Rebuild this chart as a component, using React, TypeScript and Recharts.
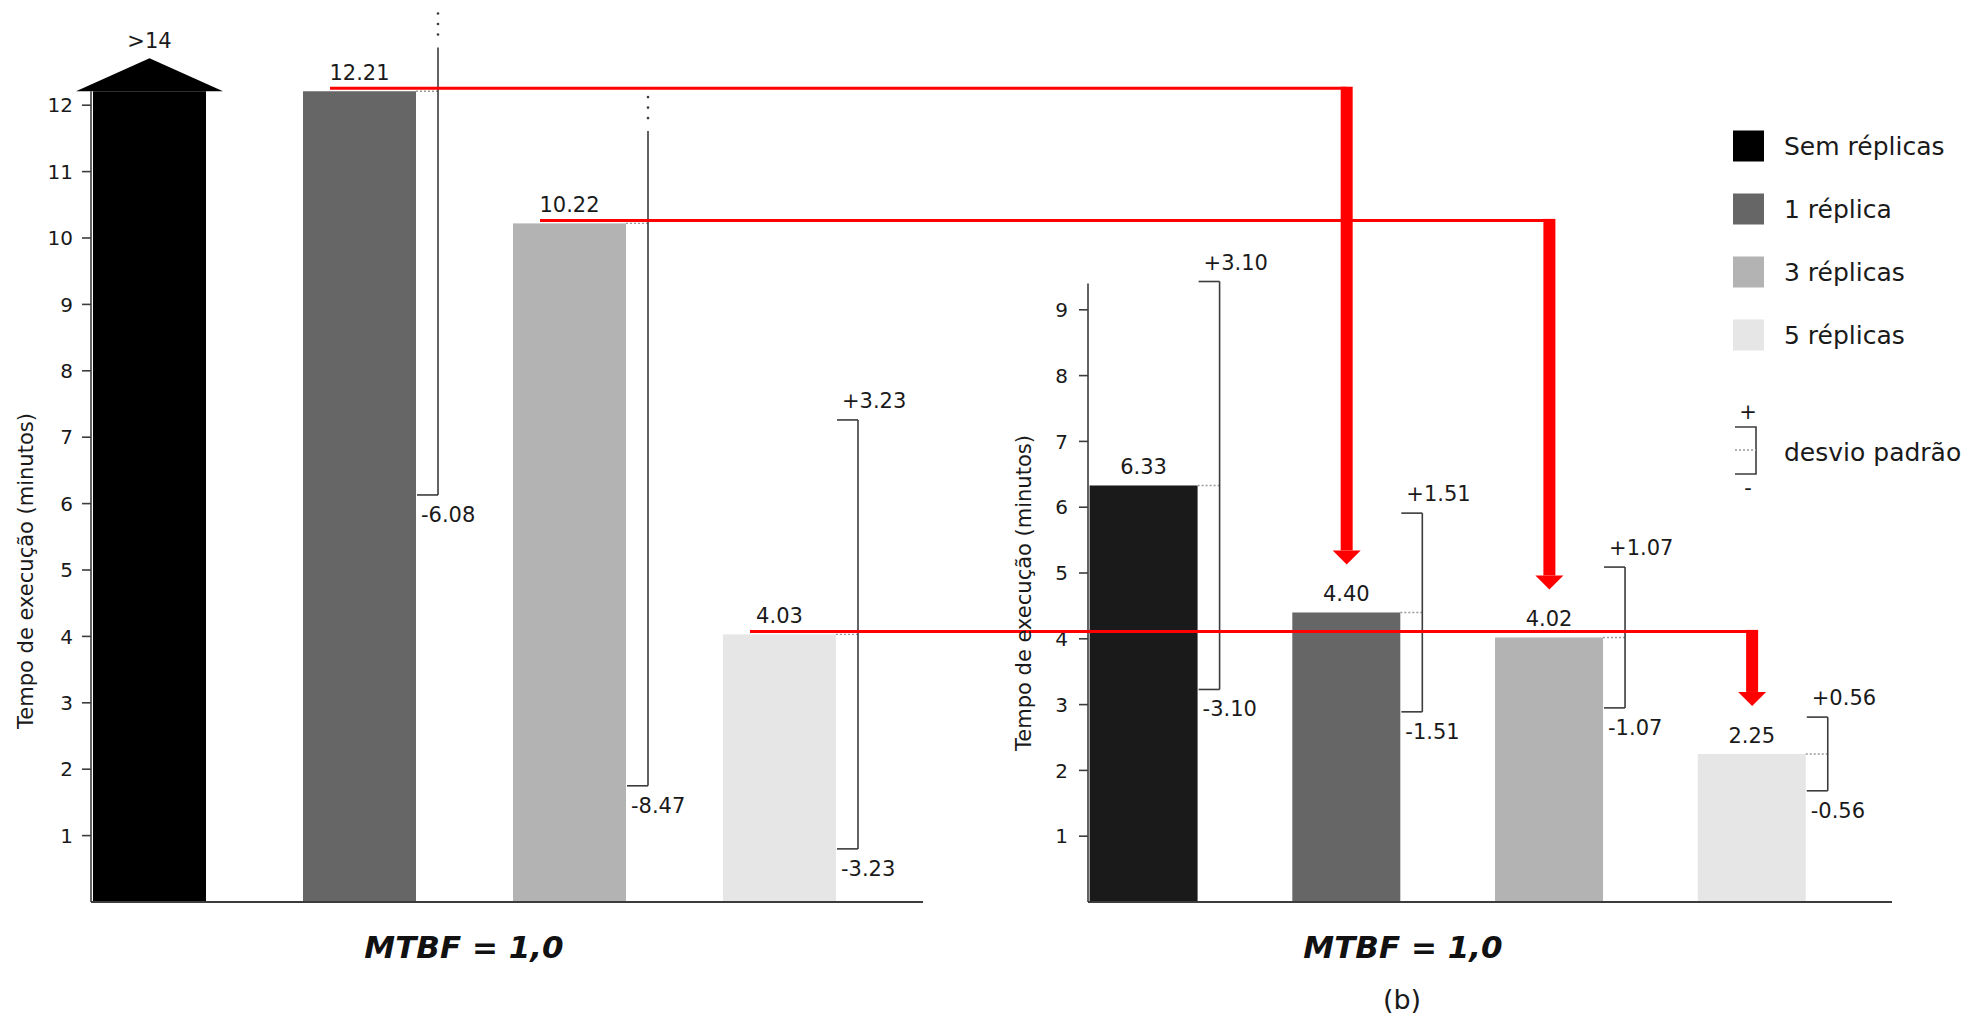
import React from 'react';
import { BarChart, Bar, XAxis, YAxis, ReferenceLine } from 'recharts';

// Tempo de execução (minutos), MTBF = 1,0
const SERIES = ['Sem réplicas', '1 réplica', '3 réplicas', '5 réplicas'];
const POSITIONS = [0, 1, 2, 3];

const LEFT_MEAN = [14, 12.21, 10.22, 4.03];
const LEFT_DEV = [null, 6.08, 8.47, 3.23];
// upper whisker is broken off at this value when it runs past the axis
const LEFT_BREAK = [null, 12.87, 11.61, null];
const LEFT_TICKS = [1, 2, 3, 4, 5, 6, 7, 8, 9, 10, 11, 12];

const RIGHT_MEAN = [6.33, 4.4, 4.02, 2.25];
const RIGHT_DEV = [3.1, 1.51, 1.07, 0.56];
const RIGHT_TICKS = [1, 2, 3, 4, 5, 6, 7, 8, 9];

const LEFT_FILLS = ['#000000', '#666666', '#b3b3b3', '#e6e6e6'];
const RIGHT_FILLS = ['#1a1a1a', '#666666', '#b3b3b3', '#e6e6e6'];

const W = 1978;
const H = 1019;
const BASE_Y = 902;
const TEXT = '#1a1a1a';
const LINE = '#3c3c3c';
const RED = '#ff0000';

const LEFT_MAX = 12.21;
const LEFT_PX = 66.4;
const RIGHT_MAX = 9.4;
const RIGHT_PX = 65.8;

const LEFT_BOX = { left: 91, right: 923, top: BASE_Y - LEFT_MAX * LEFT_PX, xMin: -0.281, xMax: 3.681, bar: 113 };
const RIGHT_BOX = { left: 1088, right: 1892, top: BASE_Y - RIGHT_MAX * RIGHT_PX, xMin: -0.276, xMax: 3.69, bar: 108 };

type Box = typeof LEFT_BOX;

const xOf = (box: Box, p: number) =>
  box.left + ((p - box.xMin) * (box.right - box.left)) / (box.xMax - box.xMin);
const yOf = (box: Box, max: number, v: number) =>
  BASE_Y - (v / max) * (BASE_Y - box.top);

const leftData = POSITIONS.map((p, i) => ({
  pos: p,
  value: Math.min(LEFT_MEAN[i], LEFT_MAX),
  mean: LEFT_MEAN[i],
  dev: LEFT_DEV[i],
  cut: LEFT_BREAK[i],
  fill: LEFT_FILLS[i],
}));

const rightData = POSITIONS.map((p, i) => ({
  pos: p,
  value: RIGHT_MEAN[i],
  mean: RIGHT_MEAN[i],
  dev: RIGHT_DEV[i],
  cut: null,
  fill: RIGHT_FILLS[i],
}));

const fmt = (v: number) => v.toFixed(2);

function DevBar(props: any) {
  const { x, y, width, height, payload } = props;
  const cx = x + width / 2;
  const right = x + width;
  const bx = right + 22;
  const ppu = height / payload.value;
  const clipped = payload.mean > payload.value;

  if (clipped) {
    // off-scale bar: rectangle topped with an arrow head
    return (
      <g>
        <rect x={x} y={y} width={width} height={height} fill={payload.fill} />
        <polygon points={`${x - 17},${y} ${cx},${y - 33} ${right + 17},${y}`} fill={payload.fill} />
        <text x={cx} y={y - 43} textAnchor="middle" fontSize={21} fill={TEXT}>
          {`>${payload.mean}`}
        </text>
      </g>
    );
  }

  const top = y - payload.dev * ppu;
  const bottom = y + payload.dev * ppu;
  const broken = payload.cut != null && payload.mean + payload.dev > payload.cut;
  const solidTop = broken ? y - (payload.cut - payload.value) * ppu : top;

  return (
    <g>
      <rect x={x} y={y} width={width} height={height} fill={payload.fill} />
      <text x={cx} y={y - 11} textAnchor="middle" fontSize={21} fill={TEXT}>
        {fmt(payload.mean)}
      </text>
      <line x1={right} x2={bx} y1={y} y2={y} stroke="#999" strokeWidth={1.4} strokeDasharray="2 2" />
      <line x1={bx} x2={bx} y1={solidTop} y2={bottom} stroke={LINE} strokeWidth={1.6} />
      <line x1={right + 1} x2={bx} y1={bottom} y2={bottom} stroke={LINE} strokeWidth={1.6} />
      <text x={right + 5} y={bottom + 27} fontSize={21} fill={TEXT}>
        {`-${fmt(payload.dev)}`}
      </text>
      {broken ? (
        [13, 23.5, 34].map((d) => (
          <circle key={d} cx={bx} cy={solidTop - d} r={1.3} fill={LINE} />
        ))
      ) : (
        <g>
          <line x1={right + 1} x2={bx} y1={top} y2={top} stroke={LINE} strokeWidth={1.6} />
          <text x={right + 6} y={top - 12} fontSize={21} fill={TEXT}>
            {`+${fmt(payload.dev)}`}
          </text>
        </g>
      )}
    </g>
  );
}

function Panel({ data, box, max, ticks, tickMargin }: any) {
  return (
    <div style={{ position: 'absolute', left: 0, top: 0 }}>
      <BarChart
        width={W}
        height={H}
        data={data}
        margin={{ top: box.top, right: W - box.right, bottom: H - BASE_Y, left: 0 }}
      >
        <XAxis type="number" dataKey="pos" domain={[box.xMin, box.xMax]} ticks={POSITIONS} hide />
        <YAxis
          type="number"
          domain={[0, max]}
          ticks={ticks}
          interval={0}
          width={box.left}
          tickSize={9}
          tickMargin={tickMargin}
          axisLine={{ stroke: LINE, strokeWidth: 1.6 }}
          tickLine={{ stroke: LINE, strokeWidth: 1.6 }}
          tick={{ fill: TEXT, fontSize: 20 }}
        />
        <Bar
          dataKey="value"
          barSize={box.bar}
          isAnimationActive={false}
          shape={(p: any) => <DevBar {...p} />}
        />
        <ReferenceLine y={0} stroke={LINE} strokeWidth={2} />
      </BarChart>
    </div>
  );
}

// red connectors: each replicated run on the left points down to its counterpart on the right
function RedArrows() {
  return (
    <g>
      {[1, 2, 3].map((k) => {
        const x0 = xOf(LEFT_BOX, POSITIONS[k]) - 30;
        const hy = yOf(LEFT_BOX, LEFT_MAX, LEFT_MEAN[k]) - 3;
        const ax = xOf(RIGHT_BOX, POSITIONS[k]);
        const tip = yOf(RIGHT_BOX, RIGHT_MAX, RIGHT_MEAN[k]) - 48;
        return (
          <g key={k}>
            <line x1={x0} x2={ax} y1={hy} y2={hy} stroke={RED} strokeWidth={3} />
            <rect x={ax - 6} y={hy - 1.5} width={12} height={tip - 14 - hy + 1.5} fill={RED} />
            <polygon points={`${ax - 14},${tip - 14} ${ax + 14},${tip - 14} ${ax},${tip}`} fill={RED} />
          </g>
        );
      })}
    </g>
  );
}

function Legend() {
  const rows = [146, 209, 272, 335];
  return (
    <g>
      {SERIES.map((name, i) => (
        <g key={name}>
          <rect x={1733} y={rows[i] - 15.5} width={31} height={31} fill={LEFT_FILLS[i]} />
          <text x={1784} y={rows[i] + 9} fontSize={25} fill={TEXT}>
            {name}
          </text>
        </g>
      ))}
      <text x={1748} y={419} textAnchor="middle" fontSize={21} fill={TEXT}>+</text>
      <path d="M1735,427 H1756 V474 H1735" fill="none" stroke={LINE} strokeWidth={1.6} />
      <line x1={1735} x2={1756} y1={450} y2={450} stroke="#999" strokeWidth={1.4} strokeDasharray="2 2" />
      <text x={1748} y={495} textAnchor="middle" fontSize={21} fill={TEXT}>-</text>
      <text x={1784} y={461} fontSize={25} fill={TEXT}>desvio padrão</text>
    </g>
  );
}

export default function App() {
  return (
    <div
      style={{
        position: 'absolute',
        left: 0,
        top: 0,
        width: W,
        height: H,
        background: '#ffffff',
        fontFamily: "'DejaVu Sans', sans-serif",
      }}
    >
      <Panel data={leftData} box={LEFT_BOX} max={LEFT_MAX} ticks={LEFT_TICKS} tickMargin={9} />
      <Panel data={rightData} box={RIGHT_BOX} max={RIGHT_MAX} ticks={RIGHT_TICKS} tickMargin={11} />
      <svg width={W} height={H} style={{ position: 'absolute', left: 0, top: 0, pointerEvents: 'none' }}>
        <RedArrows />
        <Legend />
        <text transform="translate(26,571) rotate(-90)" textAnchor="middle" dominantBaseline="central" fontSize={21} fill={TEXT}>
          Tempo de execução (minutos)
        </text>
        <text transform="translate(1024,593) rotate(-90)" textAnchor="middle" dominantBaseline="central" fontSize={21} fill={TEXT}>
          Tempo de execução (minutos)
        </text>
        <text x={464} y={958} textAnchor="middle" fontSize={31} fontWeight="bold" fontStyle="italic" fill="#111">
          MTBF = 1,0
        </text>
        <text x={1403} y={958} textAnchor="middle" fontSize={31} fontWeight="bold" fontStyle="italic" fill="#111">
          MTBF = 1,0
        </text>
        <text x={1402} y={1009} textAnchor="middle" fontSize={27} fill={TEXT}>
          (b)
        </text>
      </svg>
    </div>
  );
}
